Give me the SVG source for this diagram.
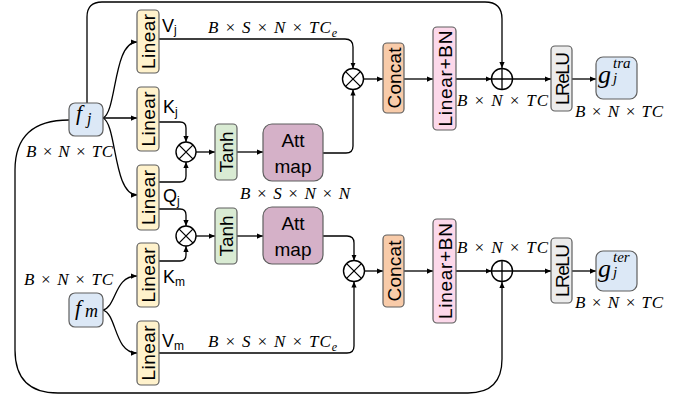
<svg xmlns="http://www.w3.org/2000/svg" width="689" height="401" viewBox="0 0 689 401">
<defs>
<marker id="ah" viewBox="0 0 8 8" refX="8" refY="4" markerWidth="6" markerHeight="6" markerUnits="userSpaceOnUse" orient="auto"><path d="M0,0.5 L8,4 L0,7.5 z" fill="#000"/></marker>
</defs>
<style>
.box{stroke:#5f5f5f;stroke-width:1.2}
.lin{fill:#fff2cc}
.fb{fill:#dce8f6}
.tanh{fill:#d9ebd3}
.att{fill:#d5b1c8}
.cc{fill:#f8cba9}
.lbn{fill:#fcd8ea}
.lr{fill:#ececec}
.lbl{font-family:"Liberation Sans",Arial,sans-serif;font-size:19px;fill:#000;text-anchor:middle;dominant-baseline:central}
.sl{font-family:"Liberation Sans",Arial,sans-serif;font-size:18px;fill:#000}
.sub{font-size:12px}
.m{font-family:"Liberation Serif","DejaVu Serif",serif;font-style:italic;font-size:17px;fill:#000}
.c{fill:none;stroke:#000;stroke-width:1.3}
.op{fill:#fff;stroke:#000;stroke-width:1.4}
</style>
<rect width="689" height="401" fill="#fff"/>

<g id="connectors">
<path class="c" d="M87,103 V17 Q87,2 102,2 H485 Q502,2 502,19 V68" marker-end="url(#ah)"/>
<path class="c" d="M69,120 Q15,120 15,170 V350 Q15,393 58,393 H468 Q502,393 502,359 V282" marker-end="url(#ah)"/>
<path class="c" d="M103,118 C117,112 113,42 137,42" marker-end="url(#ah)"/>
<path class="c" d="M103,118 H137" marker-end="url(#ah)"/>
<path class="c" d="M103,118 C117,124 113,195 137,195" marker-end="url(#ah)"/>
<path class="c" d="M103,310 C117,306 114,276 137,276" marker-end="url(#ah)"/>
<path class="c" d="M103,310 C117,314 114,353 137,353" marker-end="url(#ah)"/>
<path class="c" d="M159,39 H345 Q353,39 353,47 V68.5" marker-end="url(#ah)"/>
<path class="c" d="M159,122 H180 Q186,122 186,128 V142" marker-end="url(#ah)"/>
<path class="c" d="M159,182 H180 Q186,182 186,176 V162" marker-end="url(#ah)"/>
<path class="c" d="M159,209 H180 Q186,209 186,215 V226" marker-end="url(#ah)"/>
<path class="c" d="M159,261 H180 Q186,261 186,255 V246" marker-end="url(#ah)"/>
<path class="c" d="M196,152 H215" marker-end="url(#ah)"/>
<path class="c" d="M237,152 H263" marker-end="url(#ah)"/>
<path class="c" d="M323,153 H346 Q353,153 353,146 V89.5" marker-end="url(#ah)"/>
<path class="c" d="M196,236 H215" marker-end="url(#ah)"/>
<path class="c" d="M237,236 H263" marker-end="url(#ah)"/>
<path class="c" d="M323,236 H347 Q354,236 354,243 V260.5" marker-end="url(#ah)"/>
<path class="c" d="M159,353 H347 Q354,353 354,346 V281.5" marker-end="url(#ah)"/>
<path class="c" d="M363.5,79 H383" marker-end="url(#ah)"/>
<path class="c" d="M404,79 H433" marker-end="url(#ah)"/>
<path class="c" d="M456,79 H491.5" marker-end="url(#ah)"/>
<path class="c" d="M512.5,79 H551" marker-end="url(#ah)"/>
<path class="c" d="M572,79 H596" marker-end="url(#ah)"/>
<path class="c" d="M364.5,271 H383" marker-end="url(#ah)"/>
<path class="c" d="M404,271 H433" marker-end="url(#ah)"/>
<path class="c" d="M456,271 H491.5" marker-end="url(#ah)"/>
<path class="c" d="M512.5,271 H551" marker-end="url(#ah)"/>
<path class="c" d="M572,271 H596" marker-end="url(#ah)"/>
</g>

<g id="fj"><rect class="box fb" x="69" y="103" width="34" height="33" rx="6"/>
<text class="m" x="76" y="120" style="font-size:22px">f<tspan x="87" y="124" style="font-size:16px">j</tspan></text></g>
<g id="fm"><rect class="box fb" x="69" y="293" width="34" height="34" rx="6"/>
<text class="m" x="75" y="315" style="font-size:22px">f<tspan x="85" y="317" style="font-size:18px">m</tspan></text></g>

<g id="linVj"><rect class="box lin" x="137" y="10" width="22" height="63" rx="4"/><text class="lbl" transform="translate(148.5,41.5) rotate(-90)" textLength="55">Linear</text></g>
<g id="linKj"><rect class="box lin" x="137" y="87" width="22" height="64" rx="4"/><text class="lbl" transform="translate(148.5,119) rotate(-90)" textLength="55">Linear</text></g>
<g id="linQj"><rect class="box lin" x="137" y="165" width="22" height="65" rx="4"/><text class="lbl" transform="translate(148.5,197.5) rotate(-90)" textLength="55">Linear</text></g>
<g id="linKm"><rect class="box lin" x="137" y="243" width="22" height="64" rx="4"/><text class="lbl" transform="translate(148.5,275) rotate(-90)" textLength="55">Linear</text></g>
<g id="linVm"><rect class="box lin" x="137" y="321" width="22" height="64" rx="4"/><text class="lbl" transform="translate(148.5,353) rotate(-90)" textLength="55">Linear</text></g>

<g id="lblVj"><text class="sl" x="162" y="32">V<tspan class="sub" x="174" y="34">j</tspan></text></g>
<g id="lblKj"><text class="sl" x="163" y="113">K<tspan class="sub" x="175" y="116">j</tspan></text></g>
<g id="lblQj"><text class="sl" x="163" y="202">Q<tspan class="sub" x="177" y="205">j</tspan></text></g>
<g id="lblKm"><text class="sl" x="163" y="283">K<tspan class="sub" x="175" y="286">m</tspan></text></g>
<g id="lblVm"><text class="sl" x="162" y="347">V<tspan class="sub" x="174" y="350">m</tspan></text></g>

<g id="mul1"><circle class="op" cx="186" cy="152" r="10"/><path class="c" d="M178.9,144.9 L193.1,159.1 M193.1,144.9 L178.9,159.1"/></g>
<g id="mul2"><circle class="op" cx="186" cy="236" r="10"/><path class="c" d="M178.9,228.9 L193.1,243.1 M193.1,228.9 L178.9,243.1"/></g>
<g id="mul3"><circle class="op" cx="353" cy="79" r="10.5"/><path class="c" d="M345.6,71.6 L360.4,86.4 M360.4,71.6 L345.6,86.4"/></g>
<g id="mul4"><circle class="op" cx="354" cy="271" r="10.5"/><path class="c" d="M346.6,263.6 L361.4,278.4 M361.4,263.6 L346.6,278.4"/></g>

<g id="tanh1"><rect class="box tanh" x="215" y="124" width="22" height="56" rx="4"/><text class="lbl" transform="translate(226.5,152) rotate(-90)" textLength="41">Tanh</text></g>
<g id="tanh2"><rect class="box tanh" x="215" y="208" width="22" height="56" rx="4"/><text class="lbl" transform="translate(226.5,236) rotate(-90)" textLength="41">Tanh</text></g>

<g id="att1"><rect class="box att" x="263" y="124" width="60" height="57" rx="9"/><text class="lbl" x="293" y="140">Att</text><text class="lbl" x="293" y="166">map</text></g>
<g id="att2"><rect class="box att" x="263" y="207" width="60" height="57" rx="9"/><text class="lbl" x="293" y="223">Att</text><text class="lbl" x="293" y="249">map</text></g>

<g id="concat1"><rect class="box cc" x="383" y="43" width="21" height="70" rx="4"/><text class="lbl" transform="translate(394,78) rotate(-90)" textLength="61">Concat</text></g>
<g id="concat2"><rect class="box cc" x="383" y="235" width="21" height="72" rx="4"/><text class="lbl" transform="translate(394,271) rotate(-90)" textLength="61">Concat</text></g>

<g id="linbn1"><rect class="box lbn" x="433" y="27" width="23" height="103" rx="4"/><text class="lbl" transform="translate(445,78.5) rotate(-90)" textLength="96">Linear+BN</text></g>
<g id="linbn2"><rect class="box lbn" x="433" y="219" width="23" height="104" rx="4"/><text class="lbl" transform="translate(445,271) rotate(-90)" textLength="96">Linear+BN</text></g>

<g id="add1"><circle class="op" cx="502" cy="79" r="10.5"/><path class="c" d="M491.5,79 H512.5 M502,68.5 V89.5"/></g>
<g id="add2"><circle class="op" cx="502" cy="271" r="10.5"/><path class="c" d="M491.5,271 H512.5 M502,260.5 V281.5"/></g>

<g id="lrelu1"><rect class="box lr" x="551" y="46" width="21" height="65" rx="4"/><text class="lbl" transform="translate(562,78.5) rotate(-90)" textLength="53">LReLU</text></g>
<g id="lrelu2"><rect class="box lr" x="551" y="238" width="21" height="65" rx="4"/><text class="lbl" transform="translate(562,270.5) rotate(-90)" textLength="53">LReLU</text></g>

<g id="gtra"><rect class="box fb" x="596" y="57" width="41" height="42" rx="7"/>
<text class="m" x="598" y="83" style="font-size:26px">g<tspan x="613" y="68" style="font-size:15px">tra</tspan><tspan x="613" y="83" style="font-size:15px">j</tspan></text></g>
<g id="gter"><rect class="box fb" x="596" y="251" width="41" height="40" rx="7"/>
<text class="m" x="598" y="277" style="font-size:26px">g<tspan x="613" y="262" style="font-size:15px">ter</tspan><tspan x="613" y="277" style="font-size:15px">j</tspan></text></g>

<g id="dims">
<text class="m" x="208" y="33" textLength="129">B × S × N × TC<tspan dy="4" style="font-size:12px">e</tspan></text>
<text class="m" x="26" y="157" textLength="87">B × N × TC</text>
<text class="m" x="240" y="199" textLength="110">B × S × N × N</text>
<text class="m" x="24" y="285" textLength="89">B × N × TC</text>
<text class="m" x="208" y="347" textLength="129">B × S × N × TC<tspan dy="4" style="font-size:12px">e</tspan></text>
<text class="m" x="457" y="106" textLength="91">B × N × TC</text>
<text class="m" x="575" y="117" textLength="88">B × N × TC</text>
<text class="m" x="457" y="253" textLength="91">B × N × TC</text>
<text class="m" x="575" y="308" textLength="88">B × N × TC</text>
</g>
</svg>
